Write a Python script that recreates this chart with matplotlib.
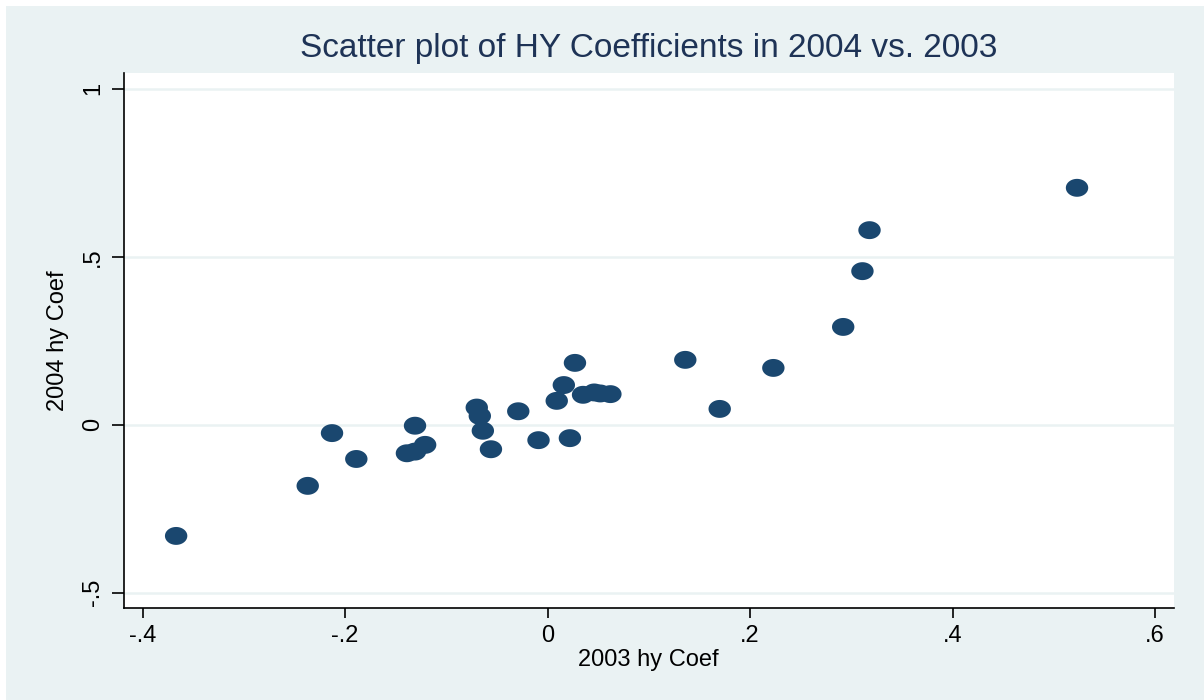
import matplotlib
matplotlib.use("Agg")
import matplotlib.pyplot as plt
from matplotlib.patches import Rectangle
import numpy as np

plt.rcParams['font.family'] = ['Liberation Sans', 'DejaVu Sans']

x2003 = [-0.367, -0.237, -0.213, -0.189, -0.139, -0.131, -0.131, -0.121,
         -0.070, -0.067, -0.064, -0.056, -0.029, -0.009, 0.009, 0.016,
         0.022, 0.027, 0.035, 0.046, 0.052, 0.062, 0.136, 0.170, 0.223,
         0.292, 0.311, 0.318, 0.523]
y2004 = [-0.331, -0.182, -0.025, -0.102, -0.085, -0.080, -0.003, -0.060,
         0.051, 0.026, -0.018, -0.073, 0.040, -0.046, 0.071, 0.118,
         -0.040, 0.184, 0.089, 0.096, 0.093, 0.091, 0.193, 0.047, 0.169,
         0.291, 0.457, 0.579, 0.705]

xticks = [-0.4, -0.2, 0.0, 0.2, 0.4, 0.6]
xticklabels = ["-.4", "-.2", "0", ".2", ".4", ".6"]
yticks = [-0.5, 0.0, 0.5, 1.0]
yticklabels = ["-.5", "0", ".5", "1"]

W, H = 1204, 700
bg = "#EAF2F3"
navy = "#1a476f"
title_col = "#1e3356"

fig = plt.figure(figsize=(W/100, H/100), dpi=100, facecolor="white")
fig.patches.append(Rectangle((6/W, 0), 1 - 6/W, 1 - 6/H, transform=fig.transFigure,
                             facecolor=bg, edgecolor="none", zorder=-10))

left, right, top, bottom = 124, 1174, 73, 608
ax = fig.add_axes([left/W, 1 - bottom/H, (right-left)/W, (bottom-top)/H])
ax.set_facecolor("white")

# elliptical marker
t = np.linspace(0, 2*np.pi, 60)
verts = np.column_stack([np.cos(t), 0.8*np.sin(t)])
ax.scatter(x2003, y2004, marker=verts, s=260, color=navy, edgecolors="none", zorder=3)

ax.set_xlim(-0.4185, 0.6188)
ax.set_ylim(-0.5455, 1.0467)
ax.set_xticks(xticks)
ax.set_xticklabels(xticklabels, fontsize=17)
ax.set_yticks(yticks)
ax.set_yticklabels(yticklabels, fontsize=17, rotation=90, va="center")
ax.yaxis.grid(True, color=bg, linewidth=1.8)
ax.set_axisbelow(True)
for s in ["top", "right"]:
    ax.spines[s].set_visible(False)
for s in ["left", "bottom"]:
    ax.spines[s].set_color("black")
    ax.spines[s].set_linewidth(1.2)
ax.tick_params(axis="x", length=7.5, width=1.2, color="black", pad=5)
ax.tick_params(axis="y", length=8.5, width=1.2, color="black", pad=6)

fig.text(648.5/W, 1 - 660/H, "2003 hy Coef", ha="center", va="center", fontsize=17)
fig.text(58/W, 1 - 341/H, "2004 hy Coef", ha="center", va="center", fontsize=17,
         rotation=90)
fig.text(649/W, 1 - 49/H, "Scatter plot of HY Coefficients in 2004 vs. 2003",
         ha="center", va="center", fontsize=24, color=title_col)

fig.savefig("out.png", dpi=100, facecolor=fig.get_facecolor())
